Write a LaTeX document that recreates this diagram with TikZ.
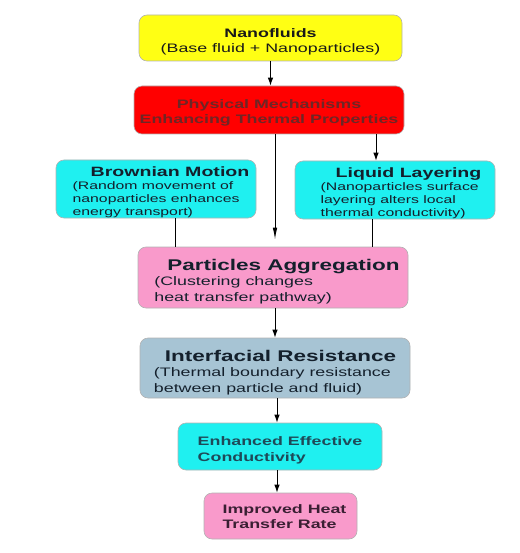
\documentclass[tikz,border=0pt]{standalone}
\usepackage{fontspec}
\setmainfont{Liberation Sans}[FakeStretch=1.45]
\usetikzlibrary{arrows.meta}

\definecolor{nanoyellow}{HTML}{FFFF14}
\definecolor{mechred}{HTML}{FF0000}
\definecolor{mechtext}{HTML}{6E2626}
\definecolor{mechcyan}{HTML}{1FF0F0}
\definecolor{aggrpink}{HTML}{F99ACB}
\definecolor{ifaceblue}{HTML}{A7C4D4}
\definecolor{darktext}{HTML}{14202C}
\definecolor{tealtext}{HTML}{1E4A58}
\definecolor{plumtext}{HTML}{3A1F33}

\newcommand{\topstrut}[1]{\rule{0pt}{#1}}

\begin{document}
\begin{tikzpicture}[x=1pt, y=-1pt,
  box/.style={draw=black!30, line width=0.6pt, rounded corners=8pt, inner sep=0pt},
  arr/.style={-{Latex[length=8pt,width=5.5pt]}, line width=1pt},
  longarr/.style={-{Latex[length=12pt,width=4.5pt]}, line width=1pt},
  link/.style={line width=1pt},
  ]
  \useasboundingbox (0,0) rectangle (519,553);

  %%% top: nanofluids and mechanisms %%%
  \node[box, fill=nanoyellow, text=black!90, minimum width=263pt, minimum height=46pt,
    align=center, font=\fontsize{12.3}{15}\selectfont] (nano) at (270.5,38)
    {\topstrut{16pt}{\bfseries Nanofluids}\\(Base fluid + Nanoparticles)};
  \node[box, fill=mechred, text=mechtext, minimum width=270pt, minimum height=48pt,
    align=center, font=\bfseries\fontsize{12.3}{15}\selectfont] (mech) at (269,110)
    {\topstrut{15pt}Physical Mechanisms\\Enhancing Thermal Properties};

  %%% side mechanisms %%%
  \node[box, fill=mechcyan, text=darktext, minimum width=200pt, minimum height=58pt,
    align=left, font=\fontsize{10.9}{13}\selectfont] (brown) at (156,189)
    {\topstrut{16pt}\hspace*{28pt}{\bfseries\fontsize{13.5}{15}\selectfont Brownian Motion}\\
     \hspace*{10pt}(Random movement of\\
     \hspace*{10pt}nanoparticles enhances\\
     \hspace*{10pt}energy transport)};
  \node[box, fill=mechcyan, text=darktext, minimum width=200pt, minimum height=58pt,
    align=left, font=\fontsize{10.9}{13}\selectfont] (layer) at (395,190)
    {\topstrut{16pt}\hspace*{27pt}{\bfseries\fontsize{13.5}{15}\selectfont Liquid Layering}\\
     \hspace*{12pt}(Nanoparticles surface\\
     \hspace*{12pt}layering alters local\\
     \hspace*{12pt}thermal conductivity)};

  %%% main chain %%%
  \node[box, fill=aggrpink, text=darktext, minimum width=270pt, minimum height=61pt,
    align=left, font=\fontsize{12.3}{15.5}\selectfont] (aggr) at (273,277.5)
    {\topstrut{19pt}\hspace*{21pt}{\bfseries\fontsize{15.5}{18}\selectfont Particles Aggregation}\\
     \hspace*{8pt}(Clustering changes\\
     \hspace*{8pt}heat transfer pathway)};
  \node[box, fill=ifaceblue, text=darktext, minimum width=270pt, minimum height=60pt,
    align=left, font=\fontsize{12.3}{15.5}\selectfont] (iface) at (275,368)
    {\topstrut{20pt}\hspace*{11pt}{\bfseries\fontsize{15.5}{18}\selectfont Interfacial Resistance}\\
     (Thermal boundary resistance\\
     between particle and fluid)};
  \node[box, fill=mechcyan, text=tealtext, minimum width=204pt, minimum height=47pt,
    align=left, font=\bfseries\fontsize{12.3}{16}\selectfont] (eff) at (280,446.5)
    {\topstrut{17pt}Enhanced Effective\\Conductivity};
  \node[box, fill=aggrpink, text=plumtext, minimum width=153pt, minimum height=46pt,
    align=left, font=\bfseries\fontsize{12.3}{15}\selectfont] (rate) at (280.5,516)
    {\topstrut{11pt}\hspace*{8pt}Improved Heat\\\hspace*{8pt}Transfer Rate};

  %%% connectors %%%
  \draw[arr] (nano.south) -- (nano.south |- mech.north);
  \draw[longarr] ([xshift=2pt]aggr.north |- mech.south) -- ([xshift=2pt,yshift=7pt]aggr.north);
  \draw[arr] ([xshift=-19pt]layer.north |- mech.south) -- ([xshift=-19pt]layer.north);
  \draw[link] ([xshift=19pt]brown.south) -- ([xshift=19pt]brown.south |- aggr.north);
  \draw[link] ([xshift=-23pt]layer.south) -- ([xshift=-23pt]layer.south |- aggr.north);
  \draw[arr] (iface.north |- aggr.south) -- (iface.north);
  \draw[arr] ([xshift=-3pt]eff.north |- iface.south) -- ([xshift=-3pt]eff.north);
  \draw[arr] ([xshift=-3pt]eff.south) -- ([xshift=-3pt]eff.south |- rate.north);
\end{tikzpicture}
\end{document}
